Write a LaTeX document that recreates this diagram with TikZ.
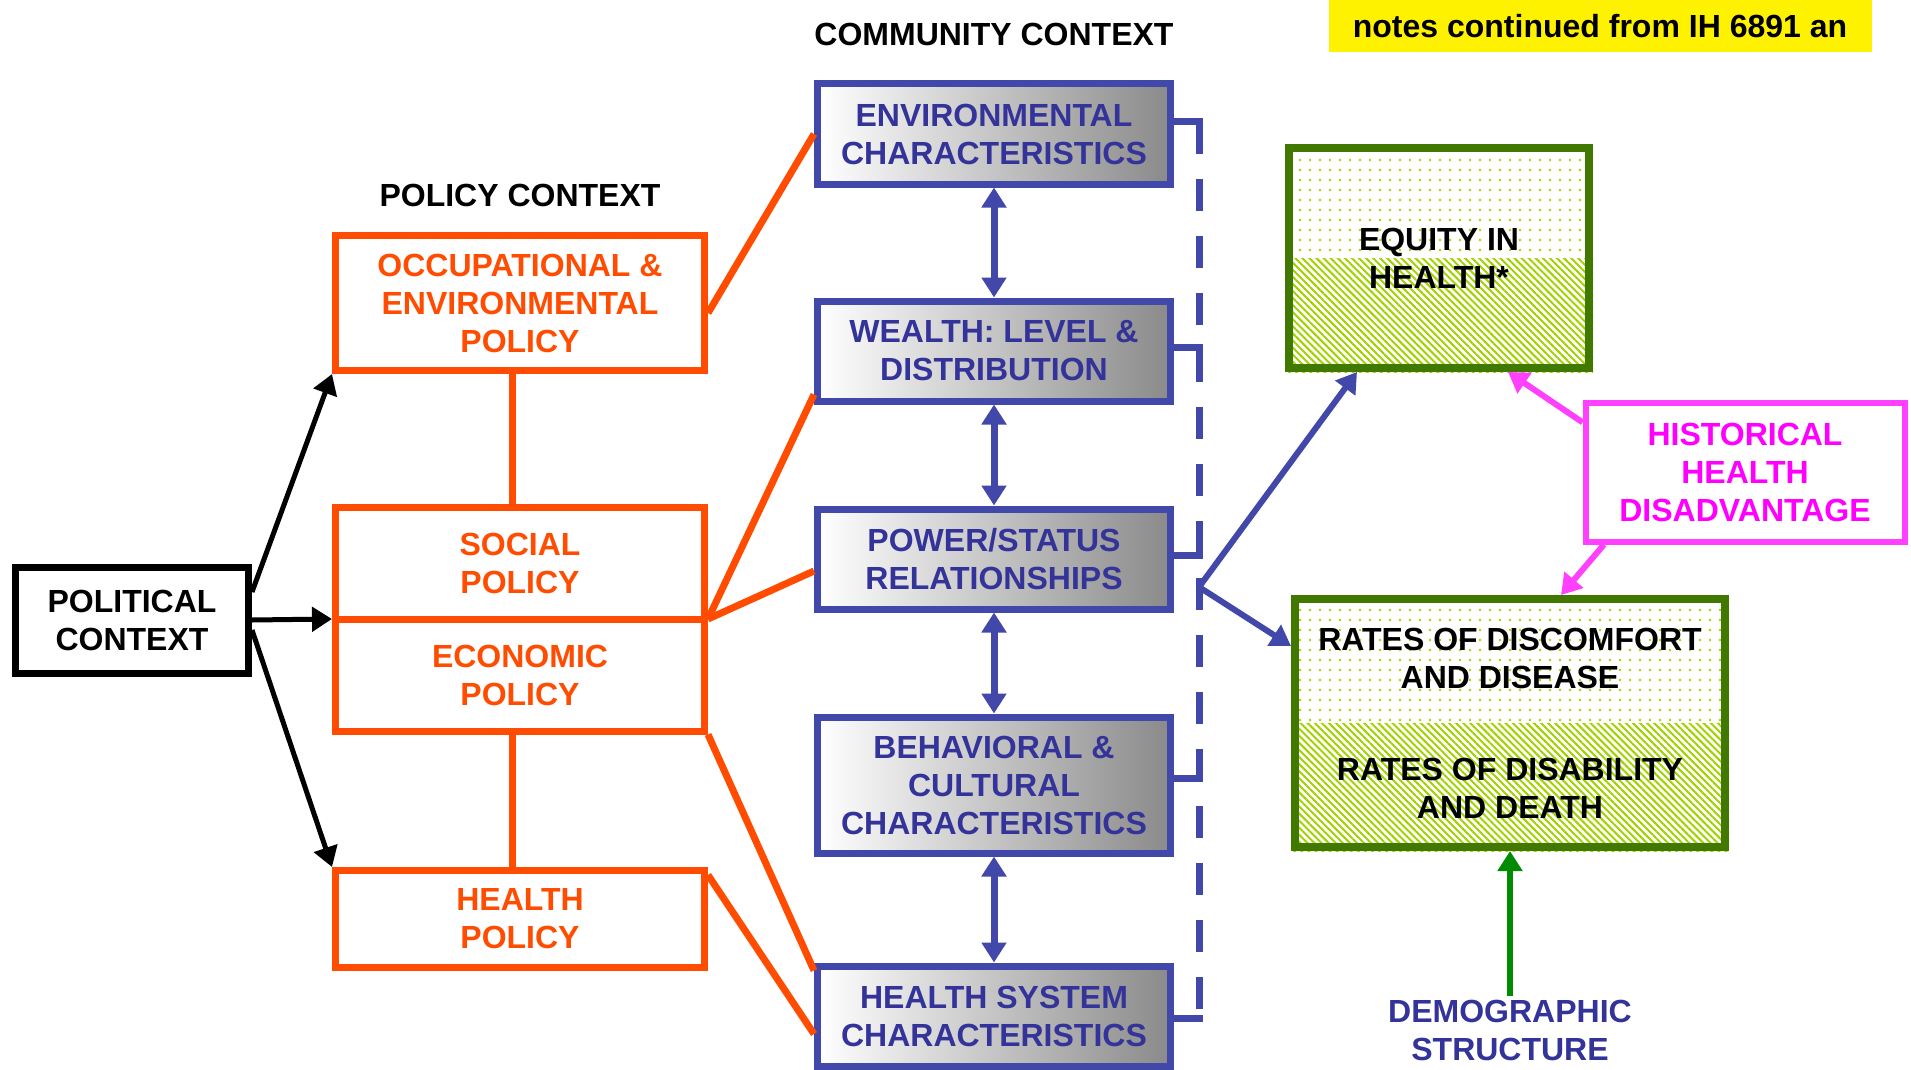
\documentclass[tikz,border=0pt]{standalone}
\usepackage{fontspec}
\setmainfont{Liberation Sans}
\usetikzlibrary{arrows.meta,patterns.meta,backgrounds}

\definecolor{polorange}{RGB}{255,76,0}
\definecolor{comblue}{RGB}{66,72,170}
\definecolor{comtext}{RGB}{51,51,153}
\definecolor{histpink}{RGB}{255,64,255}
\definecolor{histtext}{RGB}{255,0,255}
\definecolor{outgreen}{RGB}{64,120,0}
\definecolor{fillgreen}{RGB}{160,210,0}
\definecolor{demogreen}{RGB}{0,140,0}

\begin{document}
\begin{tikzpicture}[x=1pt,y=-1pt,
  every node/.style={font=\fontsize{32}{38}\selectfont\bfseries, align=center},
  tip/.style={-{Triangle[length=20pt,width=24pt]}},
  dtip/.style={{Triangle[length=20pt,width=24pt]}-{Triangle[length=20pt,width=24pt]}},
  polbox/.style={draw=polorange, text=polorange, line width=7pt, minimum width=369pt},
  combox/.style={draw=comblue, text=comtext, line width=7pt, minimum width=353pt, minimum height=100pt, left color=white, right color=black!46},
  outbox/.style={draw=outgreen, line width=8pt},
  dotfill/.style={pattern={Dots[distance=10pt,radius=1.4pt]}, pattern color=fillgreen},
  hatchfill/.style={pattern={Lines[angle=-45,distance=5pt,line width=2pt]}, pattern color=fillgreen},
  polline/.style={polorange, line width=7pt},
  comline/.style={comblue, line width=7pt}]
  \useasboundingbox (0,0) rectangle (1911,1070);

  \node[fill=yellow, minimum width=543pt, minimum height=52pt] at (1600,26) (note) {notes continued from IH 6891 an};
  \node at (994,34) (comhead) {COMMUNITY CONTEXT};
  \node at (520,195) (polhead) {POLICY CONTEXT};

  \node[draw, line width=7pt, minimum width=233pt, minimum height=106pt] at (132,620) (pol) {POLITICAL\\CONTEXT};

  \node[polbox, minimum height=135pt] at (520,303) (occ) {OCCUPATIONAL \&\\ENVIRONMENTAL\\POLICY};
  \node[polbox, minimum height=112pt] at (520,563) (soc) {SOCIAL\\POLICY};
  \node[polbox, minimum height=112pt] at (520,675) (eco) {ECONOMIC\\POLICY};
  \node[polbox, minimum height=97pt] at (520,919) (hpol) {HEALTH\\POLICY};

  \node[combox] at (994,134) (env) {ENVIRONMENTAL\\CHARACTERISTICS};
  \node[combox] at (994,351) (wealth) {WEALTH: LEVEL \&\\DISTRIBUTION};
  \node[combox] at (994,559) (power) {POWER/STATUS\\RELATIONSHIPS};
  \node[combox, minimum height=136pt] at (994,785) (behav) {BEHAVIORAL \&\\CULTURAL\\CHARACTERISTICS};
  \node[combox] at (994,1016) (hsys) {HEALTH SYSTEM\\CHARACTERISTICS};

  \node[outbox, minimum width=300pt, minimum height=220pt] at (1439,258) (eq) {EQUITY IN\\HEALTH*};
  \node[draw=histpink, text=histtext, line width=6pt, minimum width=319pt, minimum height=139pt] at (1745,472) (hist) {HISTORICAL\\HEALTH\\DISADVANTAGE};
  \node[outbox, minimum width=430pt, minimum height=248pt] at (1510,723) (rates) {RATES OF DISCOMFORT\\AND DISEASE\\[54pt]RATES OF DISABILITY\\AND DEATH};
  \node[text=comtext] at (1510,1030) (demo) {DEMOGRAPHIC\\STRUCTURE};

  \coordinate (dtop) at (1199,122);
  \coordinate (dbot) at (1199,1018);
  \coordinate (hub) at (1199,587);

  \begin{scope}[on background layer]
    \fill[dotfill] (eq.north west) rectangle (eq.east);
    \fill[hatchfill] (eq.west) rectangle (eq.south east);
    \fill[dotfill] (rates.north west) rectangle (rates.east);
    \fill[hatchfill] (rates.west) rectangle (rates.south east);
  \end{scope}

  \draw[line width=5pt, tip] ([yshift=28pt]pol.east) -- (occ.south west);
  \draw[line width=5pt, tip] (pol.east) -- ([yshift=-3.5pt]eco.north west);
  \draw[line width=5pt, tip] ([yshift=-10pt]pol.east) -- (hpol.north west);

  \draw[polline] ([xshift=-8pt]occ.south) -- ([xshift=-8pt]soc.north);
  \draw[polline] ([xshift=-8pt]eco.south) -- ([xshift=-8pt]hpol.north);
  \draw[polline] ([yshift=-10pt]occ.east) -- (env.west);
  \draw[polline] ([yshift=-3.5pt]eco.north east) -- ([yshift=10pt]wealth.south west);
  \draw[polline] ([yshift=-3.5pt]eco.north east) -- ([yshift=-12pt]power.west);
  \draw[polline] (eco.south east) -- ([yshift=-8pt]hsys.north west);
  \draw[polline] ([yshift=-8pt]hpol.north east) -- ([yshift=-18pt]hsys.west);

  \draw[comline, dtip] (env.south) -- (wealth.north);
  \draw[comline, dtip] (wealth.south) -- (power.north);
  \draw[comline, dtip] (power.south) -- (behav.north);
  \draw[comline, dtip] (behav.south) -- (hsys.north);

  \draw[comline] (env.east) ++(0,-12) -- ++(28.5,0);
  \draw[comline] (wealth.east) ++(0,-4) -- ++(28.5,0);
  \draw[comline] (power.east) ++(0,-4) -- ++(28.5,0);
  \draw[comline] (behav.east) ++(0,-7) -- ++(28.5,0);
  \draw[comline] (hsys.east) ++(0,2) -- ++(28.5,0);
  \draw[comline, dash pattern=on 32pt off 25pt] (dtop) -- (dbot);

  \draw[comline, line width=6pt, tip] (hub) -- ([xshift=-82pt]eq.south);
  \draw[comline, line width=6pt, tip] (hub) -- ([yshift=77pt]rates.west);

  \draw[histpink, line width=6pt, tip] (hist.163) -- ([xshift=69pt]eq.south);
  \draw[histpink, line width=6pt, tip] ([xshift=-141pt]hist.south) -- ([xshift=51pt]rates.north);

  \draw[demogreen, line width=6pt, tip] (demo.north) -- (rates.south);
\end{tikzpicture}
\end{document}
